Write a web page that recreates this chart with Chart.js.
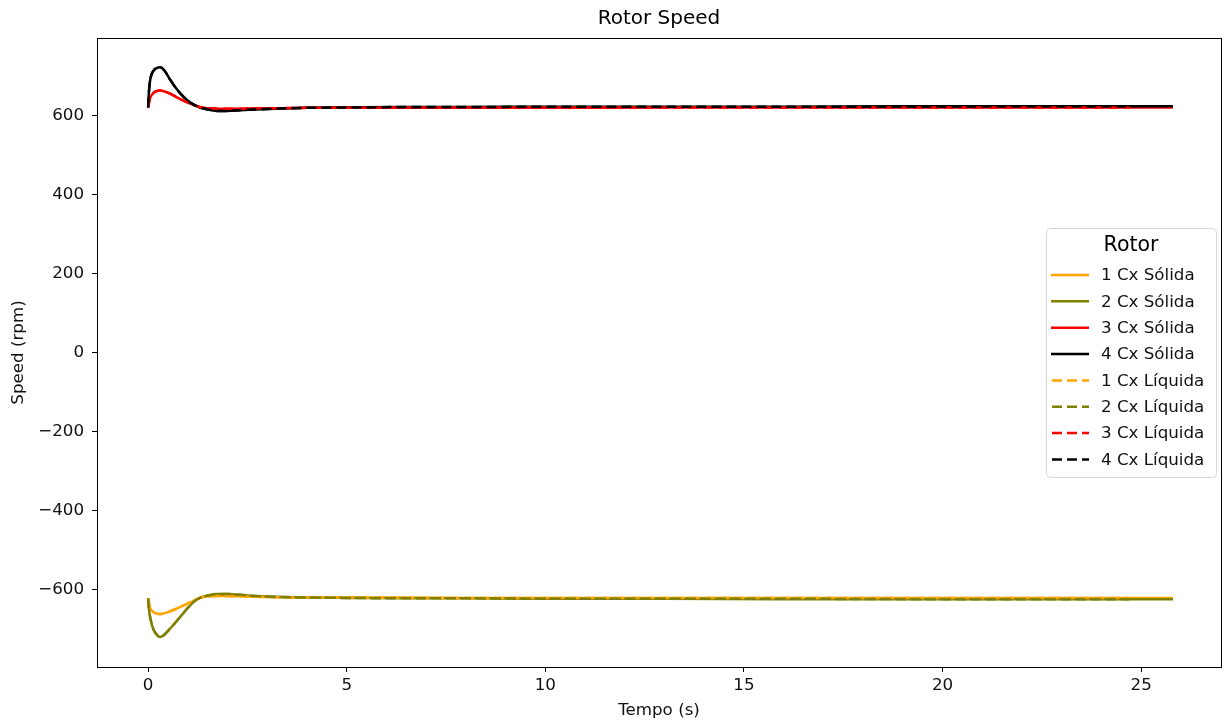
<!DOCTYPE html>
<html>
<head>
<meta charset="utf-8">
<title>Rotor Speed</title>
<script src="https://cdn.jsdelivr.net/npm/chart.js@4/dist/chart.umd.min.js"></script>
<style>
	body { margin: 0; background: #fff; }
	#wrap { width: 1227px; height: 725px; }
</style>
</head>
<body>
<div id="wrap"><canvas id="rotorChart" width="1227" height="725"></canvas></div>
<script>
// tempo (s)
const tempo = [0, 0.02, 0.05, 0.1, 0.15, 0.2, 0.3, 0.4, 0.55, 0.7, 0.85, 1.0, 1.15, 1.3, 1.5, 1.75, 2.0, 2.3, 2.7, 3.2, 4.0, 5.0, 6.5, 8, 10, 13, 16, 19, 22, 24.7, 25.8];
const tempoLiquida = [0, 0.02, 0.05, 0.1, 0.15, 0.2, 0.3, 0.4, 0.55, 0.7, 0.85, 1.0, 1.15, 1.3, 1.5, 1.75, 2.0, 2.3, 2.7, 3.2, 4.0, 5.0, 6.5, 8, 10, 13, 16, 19, 22, 24.7];

// velocidade (rpm) - carga sólida
const cx1Solida = [-623, -634, -648, -655, -659, -661, -663, -661, -656, -650, -643, -636, -629, -622, -618, -617, -617, -618, -619, -620, -621, -621, -621, -622, -622, -622, -622, -622, -622, -622, -622];
const cx2Solida = [-623, -650, -670, -692, -705, -713, -721, -716, -700, -683, -665, -647, -632, -622, -616, -612, -612, -614, -617, -619, -621, -622, -623, -623, -624, -624, -625, -625, -625, -625, -625];
const cx3Solida = [621, 632, 645, 654, 659, 662, 664, 662, 656, 648, 640, 633, 627, 622, 619, 618, 618, 618, 619, 619, 620, 620, 620, 620, 620, 621, 621, 621, 621, 621, 621];
const cx4Solida = [621, 660, 690, 708, 716, 720, 723, 716, 692, 670, 652, 638, 628, 621, 616, 612, 612, 614, 616, 618, 620, 621, 622, 622, 623, 623, 623, 624, 624, 624, 624];

// velocidade (rpm) - carga líquida
const cx1Liquida = [-623, -634, -648, -655, -659, -661, -663, -661, -656, -650, -643, -636, -629, -622, -618, -617, -617, -618, -619, -620, -621, -621, -622, -622, -622, -622, -622, -622, -622, -622];
const cx2Liquida = [-623, -650, -670, -692, -705, -713, -721, -716, -700, -683, -665, -647, -632, -622, -616, -612, -612, -614, -617, -619, -621, -622, -623, -623, -624, -624, -624, -625, -625, -625];
const cx3Liquida = [621, 632, 645, 654, 659, 662, 664, 662, 656, 648, 640, 633, 627, 622, 619, 618, 618, 618, 619, 619, 620, 620, 621, 621, 621, 621, 621, 621, 621, 621];
const cx4Liquida = [621, 660, 690, 708, 716, 720, 723, 716, 692, 670, 652, 638, 628, 621, 616, 612, 612, 614, 616, 618, 620, 621, 622, 622, 623, 623, 623, 623, 624, 624];

const xTicks = [0, 5, 10, 15, 20, 25];
const yTicks = [-600, -400, -200, 0, 200, 400, 600];

const nomes = ["1 Cx Sólida", "2 Cx Sólida", "3 Cx Sólida", "4 Cx Sólida", "1 Cx Líquida", "2 Cx Líquida", "3 Cx Líquida", "4 Cx Líquida"];
const cores = ["orange", "#808000", "red", "black", "orange", "#808000", "red", "black"];
const series = [cx1Solida, cx2Solida, cx3Solida, cx4Solida, cx1Liquida, cx2Liquida, cx3Liquida, cx4Liquida];

const FONTE = "'DejaVu Sans', sans-serif";
const TRACO = [10, 5];

function pontos(t, v) {
	return v.map((y, i) => ({ x: t[i], y: y }));
}

const datasets = series.map((v, i) => {
	const liquida = i >= 4;
	return {
		label: nomes[i],
		data: pontos(liquida ? tempoLiquida : tempo, v),
		borderColor: cores[i],
		backgroundColor: cores[i],
		borderWidth: 2.5,
		borderDash: liquida ? TRACO : [],
		pointRadius: 0,
		cubicInterpolationMode: 'monotone',
		fill: false,
		order: 7 - i // o último fica por cima
	};
});

// moldura, título e legenda desenhados à mão
const extras = {
	id: 'extras',
	afterDraw(chart) {
		const ctx = chart.ctx;
		const a = chart.chartArea;
		ctx.save();
		ctx.strokeStyle = '#000';
		ctx.lineWidth = 1;
		ctx.strokeRect(Math.round(a.left) + 0.5, Math.round(a.top) + 0.5, Math.round(a.right - a.left), Math.round(a.bottom - a.top));

		ctx.fillStyle = '#000';
		ctx.font = "20px " + FONTE;
		ctx.textAlign = 'center';
		ctx.textBaseline = 'middle';
		ctx.fillText('Rotor Speed', (a.left + a.right) / 2, 19);

		// legenda
		const bx = 1046, by = 228, bw = 170, bh = 249;
		ctx.beginPath();
		ctx.roundRect(bx + 0.5, by + 0.5, bw, bh, 4);
		ctx.fillStyle = 'rgba(255,255,255,0.8)';
		ctx.fill();
		ctx.strokeStyle = '#d6d6d6';
		ctx.stroke();

		ctx.fillStyle = '#000';
		ctx.font = "20.5px " + FONTE;
		ctx.fillText('Rotor', bx + bw / 2, 246);

		ctx.textAlign = 'left';
		ctx.font = "16.7px " + FONTE;
		for (let i = 0; i < nomes.length; i++) {
			const y = 275 + i * 26.35;
			ctx.beginPath();
			ctx.strokeStyle = cores[i];
			ctx.lineWidth = 2.5;
			ctx.setLineDash(i >= 4 ? TRACO : []);
			ctx.moveTo(i >= 4 ? 1052 : 1051, y);
			ctx.lineTo(1089, y);
			ctx.stroke();
			ctx.setLineDash([]);
			ctx.fillStyle = '#111';
			ctx.fillText(nomes[i], 1101, y + 1);
		}
		ctx.restore();
	}
};

const ctx = document.getElementById('rotorChart').getContext('2d');
const myChart = new Chart(ctx, {
	type: 'line',
	data: { datasets: datasets },
	options: {
		responsive: false,
		animation: false,
		events: [],
		layout: { padding: { top: 38, right: 6, bottom: 0, left: 0 } },
		plugins: {
			legend: { display: false },
			title: { display: false },
			tooltip: { enabled: false }
		},
		scales: {
			x: {
				type: 'linear',
				min: -1.287,
				max: 27.01,
				afterBuildTicks: s => { s.ticks = xTicks.map(v => ({ value: v })); },
				afterFit: s => { s.height = 58; },
				border: { display: false },
				grid: { drawOnChartArea: false, drawTicks: true, tickLength: 5, color: '#000' },
				ticks: { color: '#111', padding: 4, maxRotation: 0, font: { family: FONTE, size: 16.7 } },
				title: { display: true, text: 'Tempo (s)', color: '#111', padding: { top: 0, bottom: 4 }, font: { family: FONTE, size: 16.7 } }
			},
			y: {
				type: 'linear',
				min: -797,
				max: 797,
				afterBuildTicks: s => { s.ticks = yTicks.map(v => ({ value: v })); },
				afterFit: s => { s.width = 97; },
				border: { display: false },
				grid: { drawOnChartArea: false, drawTicks: true, tickLength: 5, color: '#000' },
				ticks: {
					color: '#111',
					padding: 8,
					font: { family: FONTE, size: 16.7 },
					callback: v => String(v).replace('-', '\u2212')
				},
				title: { display: true, text: 'Speed (rpm)', color: '#111', padding: { top: 9, bottom: 0 }, font: { family: FONTE, size: 16.7 } }
			}
		}
	},
	plugins: [extras]
});
</script>
</body>
</html>
